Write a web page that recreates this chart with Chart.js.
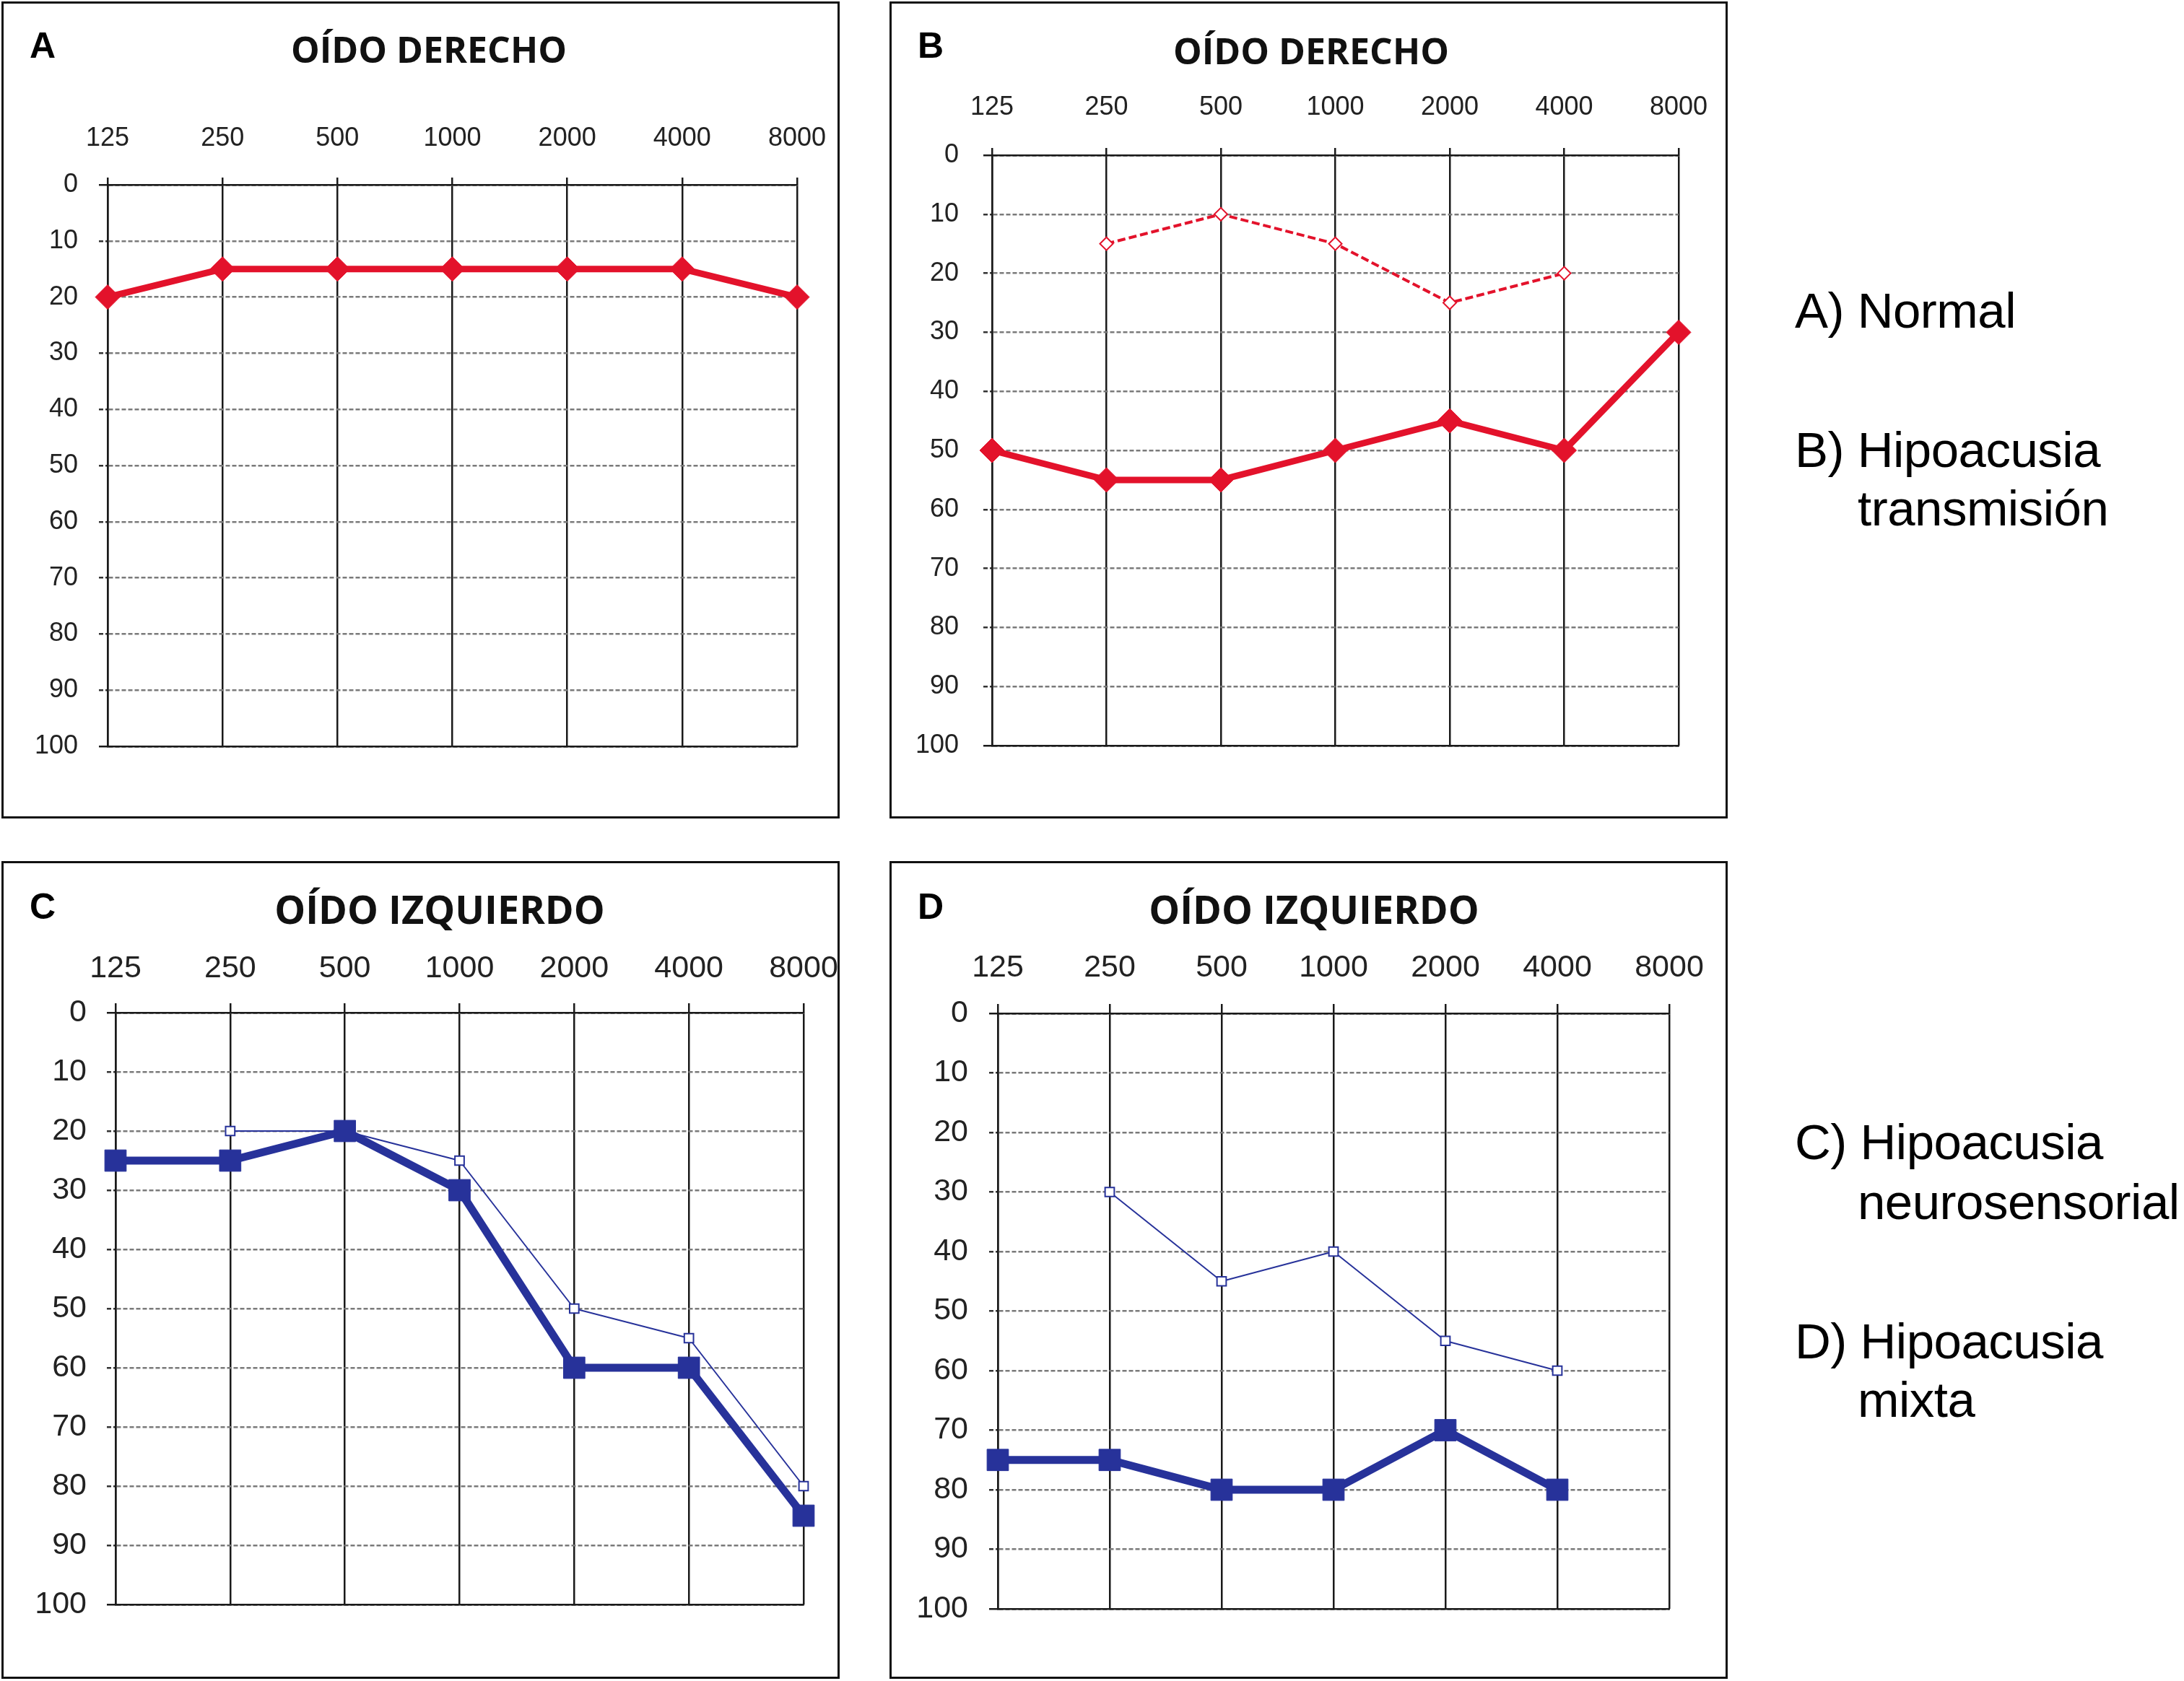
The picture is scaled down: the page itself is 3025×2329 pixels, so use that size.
<!DOCTYPE html>
<html><head><meta charset="utf-8">
<script src="https://cdn.jsdelivr.net/npm/chart.js@4.4.1/dist/chart.umd.min.js"></script>
<style>
html,body{margin:0;padding:0;background:#fff;}
body{width:3025px;height:2329px;position:relative;overflow:hidden;}
.panel{position:absolute;}
.panel canvas{position:absolute;left:0;top:0;}
.frame{position:absolute;left:0;top:0;right:0;bottom:0;border:3px solid #111;box-sizing:border-box;pointer-events:none;}
.letter{position:absolute;font-family:"Liberation Sans",Arial,sans-serif;font-weight:bold;font-size:50px;line-height:1;color:#000;white-space:nowrap;}
.title{position:absolute;width:800px;text-align:center;font-family:"Open Sans",sans-serif;font-weight:bold;line-height:1;color:#111;white-space:nowrap;}
.cap{position:absolute;font-family:"Liberation Sans",Arial,sans-serif;font-size:69px;letter-spacing:-0.5px;line-height:1;color:#000;white-space:nowrap;}
</style></head><body>
<script>
// ---------- data ----------
const freqLabels = ['125','250','500','1000','2000','4000','8000'];
const dbMin = 0, dbMax = 100, dbStep = 10;

const normalAir  = [20, 15, 15, 15, 15, 15, 20];
const transAir   = [50, 55, 55, 50, 45, 50, 30];
const transBone  = [null, 15, 10, 15, 25, 20, null];
const neuroAir   = [25, 25, 20, 30, 60, 60, 85];
const neuroBone  = [null, 20, 20, 25, 50, 55, 80];
const mixedAir   = [75, 75, 80, 80, 70, 80, null];
const mixedBone  = [null, 30, 45, 40, 55, 60, null];

const panelTitles = ['OÍDO DERECHO', 'OÍDO DERECHO', 'OÍDO IZQUIERDO', 'OÍDO IZQUIERDO'];
const panelLetters = ['A', 'B', 'C', 'D'];
const captionLines = [
  ['A) Normal'],
  ['B) Hipoacusia', 'transmisión'],
  ['C) Hipoacusia', 'neurosensorial'],
  ['D) Hipoacusia', 'mixta']
];

// ---------- styles ----------
const RED = '#e3122b';
const BLUE = '#27329a';

function thickRed(data){
  return {data, borderColor:RED, backgroundColor:RED, borderWidth:9, pointStyle:'rectRot', pointRadius:17,
    pointBackgroundColor:RED, pointBorderColor:RED, pointBorderWidth:1, order:0};
}
function dashedRed(data){
  return {data, borderColor:RED, backgroundColor:'#fff', borderWidth:4, borderDash:[11,5], pointStyle:'rectRot', pointRadius:9,
    pointBackgroundColor:'#fff', pointBorderColor:RED, pointBorderWidth:2, order:1};
}
function thickBlue(data, r){
  return {data, borderColor:BLUE, backgroundColor:BLUE, borderWidth:11, pointStyle:'rect', pointRadius:r,
    pointBackgroundColor:BLUE, pointBorderColor:BLUE, pointBorderWidth:1, order:0};
}
function thinBlue(data){
  return {data, borderColor:BLUE, backgroundColor:'#fff', borderWidth:2, pointStyle:'rect', pointRadius:9,
    pointBackgroundColor:'#fff', pointBorderColor:BLUE, pointBorderWidth:2, order:1};
}

const panels = [
  {left:2, top:2, w:1161, h:1132, area:{l:147,r:1102,t:254,b:1032}, tickFont:36, xPad:32, yPad:29, xTick:10, yTick:12,
   titleCx:592, titleCy:68, titleFs:50, letterX:39, letterCy:60, datasets:[thickRed(normalAir)]},
  {left:1232, top:2, w:1161, h:1132, area:{l:142,r:1093,t:213,b:1031}, tickFont:36, xPad:34, yPad:34, xTick:10, yTick:12,
   titleCx:584, titleCy:70, titleFs:50, letterX:39, letterCy:60, datasets:[thickRed(transAir), dashedRed(transBone)]},
  {left:2, top:1193, w:1161, h:1133, area:{l:158,r:1111,t:210,b:1030}, tickFont:43, xPad:22, yPad:28, xTick:13, yTick:12,
   titleCx:607, titleCy:68, titleFs:54, letterX:39, letterCy:62, datasets:[thickBlue(neuroAir,21), thinBlue(neuroBone)]},
  {left:1232, top:1193, w:1161, h:1133, area:{l:150,r:1080,t:211,b:1036}, tickFont:43, xPad:24, yPad:29, xTick:13, yTick:12,
   titleCx:588, titleCy:68, titleFs:54, letterX:39, letterCy:62, datasets:[thickBlue(mixedAir,21), thinBlue(mixedBone)]}
];

const captionPos = [
  [{x:2486,b:454}],
  [{x:2486,b:647},{x:2573,b:728}],
  [{x:2486,b:1606},{x:2573,b:1689}],
  [{x:2486,b:1882},{x:2573,b:1963}]
];

// ---------- build ----------
const isEdge = c => c.tick && (c.tick.value === dbMin || c.tick.value === dbMax);

panels.forEach((p, i) => {
  const wrap = document.createElement('div');
  wrap.className = 'panel';
  Object.assign(wrap.style, {left:p.left+'px', top:p.top+'px', width:p.w+'px', height:p.h+'px'});
  const cv = document.createElement('canvas');
  cv.width = p.w; cv.height = p.h;
  cv.style.width = p.w+'px'; cv.style.height = p.h+'px';
  wrap.appendChild(cv);

  const fr = document.createElement('div'); fr.className = 'frame'; wrap.appendChild(fr);

  const lt = document.createElement('div'); lt.className = 'letter';
  lt.textContent = panelLetters[i];
  lt.style.left = p.letterX+'px'; lt.style.top = (p.letterCy - 24)+'px';
  wrap.appendChild(lt);

  const tt = document.createElement('div'); tt.className = 'title';
  tt.textContent = panelTitles[i];
  tt.style.fontSize = p.titleFs+'px';
  tt.style.left = (p.titleCx - 400)+'px';
  tt.style.top = (p.titleCy - 0.531*p.titleFs)+'px';
  wrap.appendChild(tt);

  document.body.appendChild(wrap);

  const tickFont = {family:'"Liberation Sans", Arial, sans-serif', size:p.tickFont};
  new Chart(cv, {
    type:'line',
    data:{labels:freqLabels, datasets:p.datasets.map(d => Object.assign({clip:false, tension:0, spanGaps:false,
      borderJoinStyle:'round', xAxisID:'x', yAxisID:'y', pointHoverRadius:d.pointRadius}, d))},
    options:{
      responsive:false, animation:false, devicePixelRatio:1,
      events:[],
      layout:{autoPadding:false, padding:{left:0, top:0, right:p.w - p.area.r, bottom:p.h - p.area.b}},
      plugins:{legend:{display:false}, tooltip:{enabled:false}, title:{display:false}},
      scales:{
        x:{type:'category', position:'top', offset:false,
          grid:{color:'#1a1a1a', lineWidth:2.5, tickLength:p.xTick, tickColor:'#1a1a1a', drawOnChartArea:true},
          border:{display:true, color:'#1a1a1a', width:2.5},
          ticks:{font:tickFont, color:'#222', padding:p.xPad, maxRotation:0, autoSkip:false},
          afterFit:s => {s.height = p.area.t; s.paddingLeft = 0; s.paddingRight = 0;}},
        x2:{type:'category', position:'bottom', offset:false, labels:freqLabels,
          grid:{display:true, drawOnChartArea:false, drawTicks:false, color:'rgba(0,0,0,0)'},
          border:{display:true, color:'#1a1a1a', width:2.5},
          ticks:{display:false},
          afterFit:s => {s.height = 0; s.paddingLeft = 0; s.paddingRight = 0;}},
        y:{type:'linear', position:'left', min:dbMin, max:dbMax, reverse:true,
          ticks:{stepSize:dbStep, font:tickFont, color:'#222', padding:p.yPad},
          grid:{color:c => isEdge(c) ? '#1a1a1a' : '#7a7a7a', lineWidth:2.5, tickLength:p.yTick,
                tickColor:c => isEdge(c) ? '#1a1a1a' : '#333', tickBorderDash:c => isEdge(c) ? [] : [6,3]},
          border:{display:true, color:'#1a1a1a', width:2.5, dash:[6,3]},
          afterFit:s => {s.width = p.area.l; s.paddingTop = 0; s.paddingBottom = 0;}}
      }
    }
  });
});

captionLines.forEach((lines, i) => {
  lines.forEach((txt, j) => {
    const d = document.createElement('div'); d.className = 'cap';
    d.textContent = txt;
    const pos = captionPos[i][j];
    d.style.left = pos.x+'px'; d.style.top = (pos.b - 58)+'px';
    document.body.appendChild(d);
  });
});
</script>
</body></html>
